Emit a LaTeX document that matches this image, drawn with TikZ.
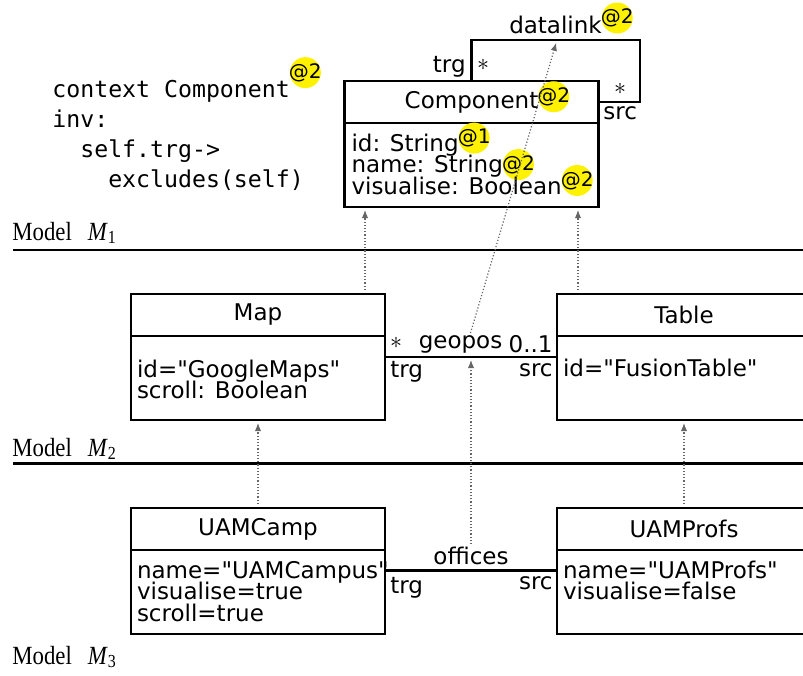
\documentclass[tikz,border=0pt]{standalone}
\usepackage{fontspec}
\newfontfamily\umlfont{DejaVu Sans}
\newfontfamily\oclfont{DejaVu Sans Mono}
\newfontfamily\layerfont{Liberation Serif}
\usetikzlibrary{
    arrows.meta,
    positioning
}
\setlength{\lineskiplimit}{-20pt}

\tikzset{
    uml/.style={font=\umlfont\fontsize{11.5}{10.75}\selectfont},
    classhead/.style={uml, draw, line width=1.2pt, outer sep=0pt, inner sep=0pt,
        minimum width=127pt, minimum height=21pt, anchor=north west},
    classbody/.style={draw, line width=1.2pt, outer sep=0pt, inner sep=0pt,
        minimum width=127pt, minimum height=42pt},
    attrs/.style={uml, align=left, inner sep=0pt, outer sep=0pt},
    lbl/.style={uml, inner sep=1pt},
    badge/.style={circle, fill=yellow, draw=none, inner sep=-2pt, outer sep=0pt,
        minimum size=15.5pt, anchor=center, text=black,
        font=\umlfont\fontsize{10}{10}\selectfont},
    assoc/.style={line width=1.2pt},
    inst/.style={densely dotted, line width=0.6pt, draw=black!60,
        -{Latex[length=4pt, width=3.2pt]}, shorten >=1.5pt},
    layer/.style={font=\layerfont\fontsize{11.4}{12}\selectfont, inner sep=0pt},
    layerline/.style={line width=1.2pt}
}

\newcommand{\vtag}[2][5pt]{\rlap{\smash{\raisebox{#1}{\tikz[baseline=0pt]\node[badge] at (0,0) {@#2};}}}}
\newcommand{\layername}[1]{\scalebox{1}[1.15]{Model\hspace{0.7em}\textit{M}\textsubscript{#1}}}

\begin{document}
\begin{tikzpicture}[x=0.5pt, y=-0.5pt]
    \useasboundingbox (0,0) rectangle (803,675);
    \clip (0,0) rectangle (803,675);

    \node[layer, anchor=base west] (m1) at (12,240) {\layername{1}};
    \node[layer, anchor=base west] (m2) at (12,456) {\layername{2}};
    \node[layer, anchor=base west] (m3) at (12,664) {\layername{3}};
    \draw[layerline] (13,250) -- (803,250);
    \draw[layerline] (13,463.5) -- (803,463.5);

    \node[anchor=north west, inner sep=0pt, align=left,
        font=\oclfont\fontsize{11.6}{15}\selectfont] (ocl) at (52,80)
        {context Component\vtag[12.5pt]{2}\\inv:\\\phantom{xx}self.trg->\\\phantom{xxxx}excludes(self)};

    \node[classhead] (comphead) at (344.5,81) {Component\vtag[5.7pt]{2}};
    \node[classbody, below=0pt of comphead] (compbody) {};
    \node[attrs, below right=5.5pt and 3.5pt of compbody.north west] (compattr)
        {id: String\vtag[6.7pt]{1}\\name: String\vtag[4.2pt]{2}\\visualise: Boolean\vtag[7pt]{2}};

    \node[classhead] (maphead) at (131,294) {Map};
    \node[classbody, below=0pt of maphead] (mapbody) {};
    \node[attrs, below right=12pt and 3pt of mapbody.north west] (mapattr)
        {id="GoogleMaps"\\scroll: Boolean};

    \node[classhead] (tablehead) at (557,294) {Table};
    \node[classbody, below=0pt of tablehead] (tablebody) {};
    \node[attrs, below right=11.5pt and 3pt of tablebody.north west] (tableattr)
        {id="FusionTable"};

    \node[classhead] (uamchead) at (131,508) {UAMCamp};
    \node[classbody, below=0pt of uamchead] (uamcbody) {};
    \node[attrs, below right=5.5pt and 3pt of uamcbody.north west] (uamcattr)
        {name="UAMCampus"\\visualise=true\\scroll=true};

    \node[classhead] (uamphead) at (557,508) {UAMProfs};
    \node[classbody, below=0pt of uamphead] (uampbody) {};
    \node[attrs, below right=5.5pt and 3pt of uampbody.north west] (uampattr)
        {name="UAMProfs"\\visualise=false};

    \coordinate (dlcorner) at (640,40);
    \coordinate (dltop) at (557,40);
    \draw[assoc] (comphead.north) |- (dlcorner) |- (comphead.east);
    \node[lbl, anchor=base] (dlname) at (555.5,33) {datalink\vtag[7.5pt]{2}};
    \node[lbl, anchor=base east] (dltrg) at (468,72) {trg};
    \node[lbl] (dltrgmult) at (483,65) {$\ast$};
    \node[lbl] (dlsrcmult) at (620,89) {$\ast$};
    \node[lbl, anchor=base west] (dlsrc) at (601,119) {src};

    \coordinate (geo) at (471.5,357);
    \draw[assoc] (mapbody.east |- geo) -- (tablebody.west |- geo);
    \node[lbl, anchor=base] (geoname) at (460.5,348.3) {geopos};
    \node[lbl] (geotrgmult) at (396,343) {$\ast$};
    \node[lbl, anchor=base east] (geosrcmult) at (555,352.7) {0..1};
    \node[lbl, anchor=base west] (geotrg) at (388,377.3) {trg};
    \node[lbl, anchor=base east] (geosrc) at (555,376.7) {src};

    \coordinate (off) at (471.5,570.5);
    \draw[assoc] (uamcbody.east |- off) -- (uampbody.west |- off);
    \node[lbl, anchor=base] (offname) at (471,564) {offices};
    \node[lbl, anchor=base west] (offtrg) at (388,593.3) {trg};
    \node[lbl, anchor=base east] (offsrc) at (555,589.3) {src};

    \coordinate (mapup) at ([xshift=53.5pt]maphead.north);
    \coordinate (tableup) at ([xshift=-53pt]tablehead.north);
    \draw[inst] ([yshift=2pt]mapup) -- (mapup |- compbody.south);
    \draw[inst] ([yshift=2pt]tableup) -- (tableup |- compbody.south);
    \draw[inst] ([yshift=2pt]uamchead.north) -- (mapbody.south);
    \draw[inst] ([yshift=2pt]uamphead.north) -- (tablebody.south);
    \draw[inst] (offname.north) -- (offname.north |- geo);
    \draw[inst] ([xshift=5pt]geoname.north) -- (dltop);
\end{tikzpicture}
\end{document}
